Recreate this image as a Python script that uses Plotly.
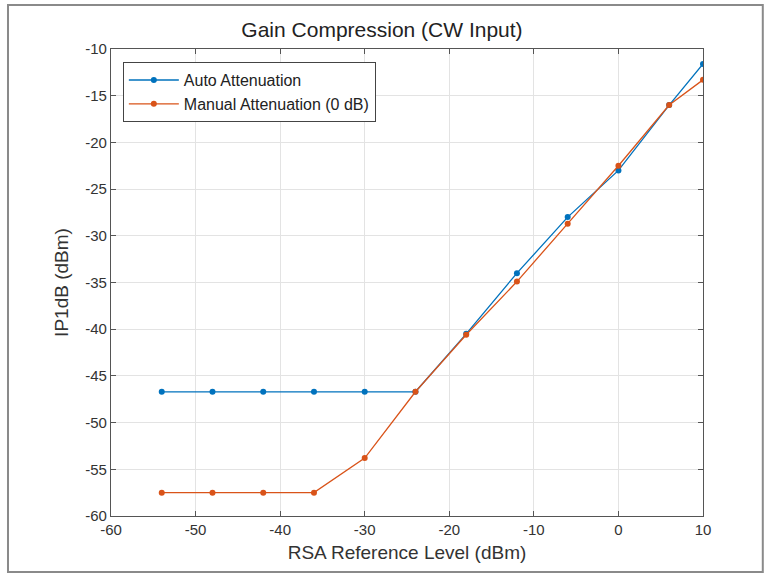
import plotly.graph_objects as go

ref_level = [-54, -48, -42, -36, -30, -24, -18, -12, -6, 0, 6, 10]
auto_att = [-46.7, -46.7, -46.7, -46.7, -46.7, -46.7, -40.5, -34.0, -28.0, -23.0, -16.0, -11.6]
manual_att = [-57.5, -57.5, -57.5, -57.5, -53.8, -46.7, -40.6, -34.9, -28.7, -22.5, -16.0, -13.3]
x_ticks = [-60, -50, -40, -30, -20, -10, 0, 10]
y_ticks = [-60, -55, -50, -45, -40, -35, -30, -25, -20, -15, -10]

fig = go.Figure()
fig.add_trace(go.Scatter(x=ref_level, y=auto_att, mode="lines+markers", name="Auto Attenuation",
                         line=dict(color="#0072BD", width=1.3),
                         marker=dict(symbol="circle", size=6, color="#0072BD")))
fig.add_trace(go.Scatter(x=ref_level, y=manual_att, mode="lines+markers", name="Manual Attenuation (0 dB)",
                         line=dict(color="#D95319", width=1.3),
                         marker=dict(symbol="circle", size=6, color="#D95319")))

axis_common = dict(showgrid=True, gridcolor="#e3e3e3", gridwidth=1, showline=True, linecolor="#555",
                   linewidth=1.2, mirror="ticks", ticks="inside", ticklen=5, tickcolor="#555",
                   zeroline=False, tickfont=dict(size=15, color="#333"))
fig.update_xaxes(range=[-60, 10], tickvals=x_ticks, ticktext=[str(v) for v in x_ticks],
                 title=dict(text="RSA Reference Level (dBm)", font=dict(size=19, color="#333"), standoff=8),
                 **axis_common)
fig.update_yaxes(range=[-60, -10], tickvals=y_ticks, ticktext=[str(v) for v in y_ticks],
                 title=dict(text="IP1dB (dBm)", font=dict(size=19, color="#333"), standoff=11),
                 **axis_common)

fig.add_shape(type="rect", xref="paper", yref="paper", x0=-0.174, x1=1.101, y0=-0.120, y1=1.094,
              line=dict(color="#8a8a8a", width=2), fillcolor="rgba(0,0,0,0)", layer="below")

fig.update_layout(
    width=764, height=578,
    margin=dict(l=111, r=61, t=49, b=62),
    paper_bgcolor="white", plot_bgcolor="white",
    font=dict(family="Liberation Sans, Arial, sans-serif", color="#333"),
    title=dict(text="Gain Compression (CW Input)", x=0.5, xanchor="center", y=0.948, yanchor="middle",
               font=dict(size=21, color="#222")),
    legend=dict(x=0.020, y=0.972, xanchor="left", yanchor="top", bgcolor="white",
                bordercolor="#444", borderwidth=1, font=dict(size=16, color="#222"),
                tracegroupgap=0, itemwidth=50),
    showlegend=True,
)

fig.write_html("out.html", post_script="document.body.style.margin='0px';",
               config={"displayModeBar": False})
